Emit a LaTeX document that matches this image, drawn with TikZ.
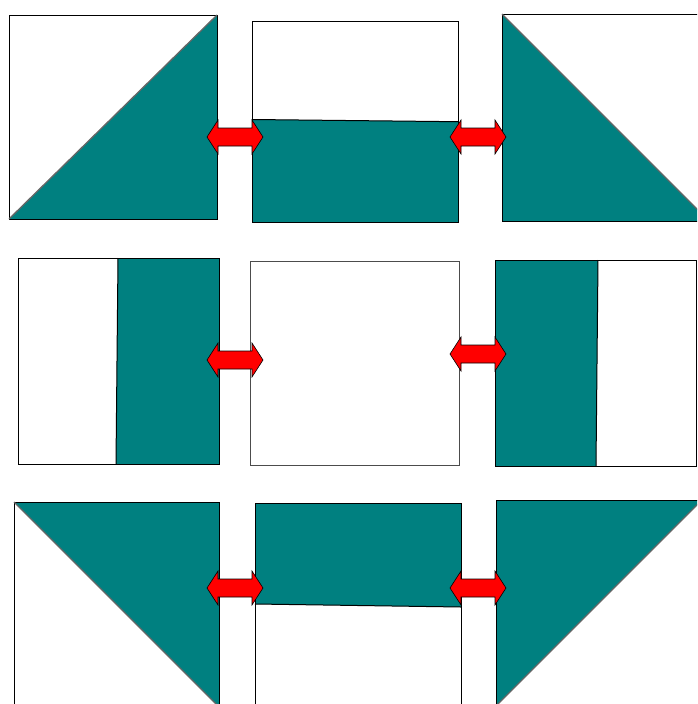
\documentclass[tikz,border=0pt]{standalone}
\definecolor{tealc}{HTML}{008080}
\newcommand\dblarr[2]{%
  \draw[dblarrow] (#1,#2) -- ++(11,-17) -- ++(0,8) -- ++(34,0) -- ++(0,-8) -- ++(11,17)
    -- ++(-11,17) -- ++(0,-8) -- ++(-34,0) -- ++(0,8) -- cycle;}
\begin{document}
\begin{tikzpicture}[x=1pt,y=-1pt,
  edge/.style={draw=black,line width=1pt},
  thinedge/.style={draw=black!70,line width=0.7pt},
  half/.style={fill=tealc},
  diag/.style={draw=black!60,line width=1.3pt},
  dblarrow/.style={fill=red,draw=black,line width=0.6pt,line join=miter}]
\useasboundingbox (0,0) rectangle (697,704);
\clip (0,0) rectangle (697,704);
% row 1
\fill[half] (9,219) -- (217,15) -- (217,219) -- cycle;
\draw[edge] (9,15) rectangle (217,219);
\draw[diag] (9,219) -- (217,15);
\fill[half] (252,119.5) -- (458,121.7) -- (458,222) -- (252,222) -- cycle;
\draw[edge] (252,21) rectangle (458,222);
\draw[edge] (252,119.5) -- (458,121.7);
\fill[half] (502,14) -- (709,221) -- (502,221) -- cycle;
\draw[edge] (502,14) rectangle (709,221);
\draw[diag] (502,14) -- (709,221);
% row 2
\fill[half] (118,258) -- (219,258) -- (219,464) -- (116,464) -- cycle;
\draw[edge] (18,258) rectangle (219,464);
\draw[edge] (118,258) -- (116,464);
\draw[thinedge] (250,261) rectangle (459,465);
\fill[half] (495,260) -- (598,260) -- (596,466) -- (495,466) -- cycle;
\draw[edge] (495,260) rectangle (696,466);
\draw[edge] (598,260) -- (596,466);
% row 3
\fill[half] (14,502) -- (219,502) -- (219,707) -- cycle;
\draw[edge] (14,502) rectangle (219,709);
\draw[diag] (14,502) -- (219,707);
\fill[half] (255,503) -- (461,503) -- (461,607) -- (255,604) -- cycle;
\draw[edge] (255,503) rectangle (461,710);
\draw[edge] (255,604) -- (461,607);
\fill[half] (496,500) -- (702,500) -- (496,706) -- cycle;
\draw[edge] (496,500) rectangle (702,710);
\draw[diag] (702,500) -- (496,706);
% arrows
\dblarr{207}{137}
\dblarr{450}{137}
\dblarr{207}{360}
\dblarr{450}{354}
\dblarr{207}{588}
\dblarr{450}{588}
\end{tikzpicture}
\end{document}
